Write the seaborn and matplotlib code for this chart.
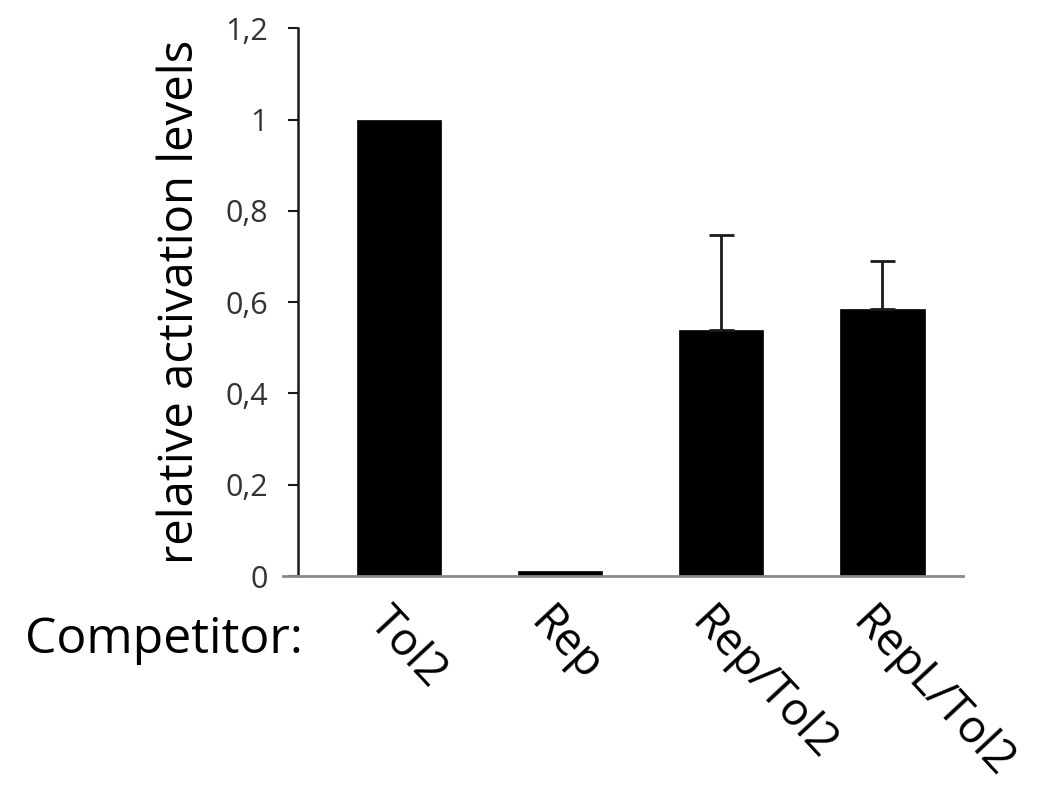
import matplotlib
matplotlib.use("Agg")
import matplotlib.pyplot as plt
import matplotlib.transforms as mtransforms
import seaborn as sns
import pandas as pd
import numpy as np

# ---- data ----
categories = ["Tol2", "Rep", "Rep/Tol2", "RepL/Tol2"]
values = [1.0, 0.011, 0.540, 0.586]
errors_up = [0.0, 0.0, 0.207, 0.104]
ytick_values = [0, 0.2, 0.4, 0.6, 0.8, 1.0, 1.2]
ytick_labels = ["0", "0,2", "0,4", "0,6", "0,8", "1", "1,2"]
ylabel = "relative activation levels"
xprefix = "Competitor:"

sns.set_theme(style="white")
plt.rcParams["font.family"] = ["Open Sans", "DejaVu Sans"]

W, H = 1064, 791
fig = plt.figure(figsize=(W / 100, H / 100), dpi=100)
ax_left, ax_right = 283 / W, 963 / W
ax_bottom, ax_top = 1 - 576 / H, 1 - 28.3 / H
ax = fig.add_axes([ax_left, ax_bottom, ax_right - ax_left, ax_top - ax_bottom])

df = pd.DataFrame({"cat": categories, "val": values})
sns.barplot(data=df, x="cat", y="val", color="black", width=0.523,
            errorbar=None, ax=ax, saturation=1, edgecolor="black", linewidth=0.5)

# one-sided upward error bars
x_pos = np.arange(len(categories))
idx = [i for i, e in enumerate(errors_up) if e > 0]
ax.errorbar(x_pos[idx], np.array(values)[idx],
            yerr=[np.zeros(len(idx)), np.array(errors_up)[idx]],
            fmt="none", ecolor="#1a1a1a", elinewidth=2, capsize=9, capthick=2, zorder=3)

ax.set_xlim(-0.72, 3.5)
ax.set_ylim(0, 1.2)
ax.set_xlabel("")
ax.set_ylabel("")

ax.tick_params(axis="y", direction="out", length=7.5, width=1.5, color="#1a1a1a",
               pad=14, left=True, labelsize=22, labelcolor="#333333")
ax.tick_params(axis="x", length=0, pad=17, labelsize=33, labelcolor="black")
ax.set_yticks(ytick_values)
ax.set_yticklabels(ytick_labels)
for lab in ax.get_yticklabels():
    lab.set_fontfamily(["Liberation Sans", "DejaVu Sans"])
    lab.set_fontsize(22)

for s in ["top", "right"]:
    ax.spines[s].set_visible(False)
ax.spines["left"].set_position(("axes", 14.7 / 680))
ax.spines["left"].set_color("#1a1a1a")
ax.spines["left"].set_linewidth(1.8)
ax.spines["bottom"].set_color("#8a8a8a")
ax.spines["bottom"].set_linewidth(2)

ax.set_xticks(x_pos)
ax.set_xticklabels(categories, rotation=-47, ha="left", va="top",
                   rotation_mode="anchor")
offset = mtransforms.ScaledTranslation(-6 / 100, 0, fig.dpi_scale_trans)
for lab in ax.get_xticklabels():
    lab.set_fontsize(33)
    lab.set_transform(lab.get_transform() + offset)

fig.text(25 / W, 1 - 653 / H, xprefix, fontsize=36, ha="left", va="baseline", color="black")
fig.text(180 / W, 0.5 * (ax_bottom + ax_top), ylabel, rotation=90, fontsize=34,
         ha="center", va="center", color="black")

ax.grid(False)
fig.patch.set_facecolor("white")
fig.savefig("out.png", dpi=100, facecolor="white")
